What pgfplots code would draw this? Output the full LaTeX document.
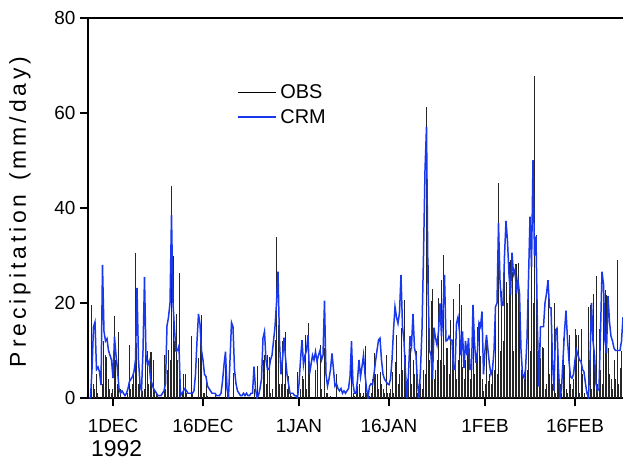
\documentclass[border=0pt]{standalone}
\usepackage{fontspec}
\setmainfont{Liberation Sans}
\usepackage{pgfplots}
\pgfplotsset{compat=1.18}
\usepackage{pgfplotstable}
\definecolor{crmblue}{RGB}{25,55,235}

% 6-hourly values, starting 27 Nov 1992 (day -4 relative to 1 Dec)
\pgfplotstableread[row sep=\\]{
obs crm\\
0 0\\ 0 0\\ 19.6 6\\ 3 15\\
2 16\\ 5 6\\ 1 6.5\\ 0 5.5\\
0 2.7\\ 3 28\\ 12 14\\ 9 12\\
8.7 12.5\\ 4 10\\ 2 9\\ 1 8\\
2 4.2\\ 17.3 12.9\\ 8 9\\ 3 6\\
14 2\\ 2 1\\ 0 1.5\\ 0 1\\
0 0.5\\ 0 1\\ 1 2\\ 11.2 3.5\\
2 4\\ 3 4.5\\ 5 5.6\\ 30.6 8\\
11.6 23.2\\ 3 8\\ 6 3\\ 2 1.5\\
1.5 10\\ 2 25.5\\ 14.3 9\\ 10 7\\
3 7.8\\ 9.7 4\\ 9.7 3\\ 7.9 2\\
2 1.5\\ 1 1\\ 0.5 0.5\\ 0 0.5\\
0 0.5\\ 0 1\\ 9 1.5\\ 2 3\\
6 15.2\\ 10.1 17\\ 8 20\\ 44.6 38.5\\
29.9 20\\ 12 14.4\\ 17.7 9.9\\ 8 10\\
26.4 11\\ 3 0.5\\ 1 1\\ 5 1.5\\
5 2\\ 1 1.5\\ 0 1\\ 0 1\\
13 1\\ 1 1\\ 0 1.5\\ 0 5\\
0 12\\ 8.4 17.7\\ 12.9 15.5\\ 17.5 10\\
1 8\\ 1 5\\ 4.6 4.5\\ 0.5 2.5\\
0 2\\ 0 1.5\\ 0 1\\ 0 1\\
1 1\\ 0 0.5\\ 0 0.5\\ 0 0.5\\
0 1\\ 0 3.5\\ 0 7\\ 7 9.75\\
2 2\\ 0 0\\ 0 8\\ 0 15.9\\
5.2 15\\ 0 6\\ 0 3\\ 0 1.5\\
0 1\\ 0 0.5\\ 0 0.5\\ 0 1\\
0 0.5\\ 0 1\\ 0 0.5\\ 0 0.5\\
0 1\\ 0 1\\ 2 6.6\\ 0 2\\
6.7 0\\ 0 0.5\\ 0 2\\ 0 4\\
8 12.6\\ 9 14\\ 3 8\\ 9 6\\
8.7 6\\ 1 8\\ 2 9\\ 0 12\\
12.2 15\\ 34 20\\ 15.4 26.6\\ 3 12\\
3 5\\ 12 8\\ 3 12.7\\ 14 8.5\\
2 5\\ 4.7 3\\ 1 1\\ 0.5 1\\
0 1\\ 0 0.5\\ 0 0.5\\ 5.5 0\\
0 3\\ 2 8\\ 4.7 12.2\\ 4 7\\
13.2 9\\ 2 10\\ 15.7 13.2\\ 6.8 5\\
0 7\\ 0 9\\ 0 8\\ 6 9.75\\
7.7 7.7\\ 0 9\\ 11.2 10\\ 2 8\\
0 9\\ 10.5 20.5\\ 1 5\\ 1 2.5\\
0 4\\ 0.5 6\\ 0 9.4\\ 0 6\\
0 2.5\\ 5 3\\ 0 2\\ 0 1.5\\
0 2\\ 0 1\\ 0 1.5\\ 0 1\\
0 1.5\\ 0 2\\ 0 4.5\\ 11.9 11.9\\
1 3\\ 0.5 1\\ 1 1\\ 2.5 3.8\\
3 8\\ 1 4.5\\ 0.5 6.6\\ 1 9\\
11 5\\ 1 2\\ 0 0\\ 0.5 2.5\\
1 3\\ 4 2.8\\ 9.4 5\\ 5 7.7\\
5 10\\ 2 12.2\\ 5.5 12.6\\ 3 8\\
2 5\\ 1 4\\ 9 3.5\\ 1 3\\
1 2.8\\ 2 4\\ 5.5 8\\ 1 14.3\\
7.5 19.2\\ 13.2 17\\ 3 15.7\\ 5 18\\
14.7 25.9\\ 6 15\\ 20.6 11.9\\ 9 5.3\\
4 0\\ 6 5\\ 10.5 13\\ 3 11\\
7.9 17.7\\ 5 10.5\\ 10 9\\ 1 3\\
1 0\\ 3 6\\ 2 14.4\\ 6 30\\
5 48\\ 61.3 57.1\\ 28 24\\ 8 10\\
20.4 9\\ 23 4\\ 4 14.8\\ 6 12.6\\
8 11.2\\ 21 14\\ 8 19.9\\ 24.9 13\\
30.1 18.5\\ 7 25.9\\ 10.5 12\\ 10.5 12.2\\
5 13\\ 16.4 12.2\\ 8 12.2\\ 20.8 6\\
6 6\\ 4 15.7\\ 8 17\\ 24 14\\
19.6 9\\ 6.5 14\\ 4 6.3\\ 8 12\\
10.5 9\\ 9.8 12.6\\ 4 6\\ 8 6\\
15 19.6\\ 5 11.6\\ 8 7.4\\ 15 10\\
16 15.8\\ 8.8 15\\ 4 18.2\\ 1.5 5\\
3 10\\ 13 13.3\\ 3.5 10\\ 5 7\\
3 5\\ 6 6\\ 6 10\\ 17.8 19.2\\
5 20\\ 45.2 36.8\\ 10 24.8\\ 22.5 19.5\\
12 19.5\\ 29 30\\ 24.5 37.3\\ 20 33\\
28.7 26\\ 29 21.7\\ 26.6 30.6\\ 10 26\\
28.3 27\\ 28.3 22\\ 28.4 24.8\\ 21.7 22\\
6 10.2\\ 5 5\\ 4 4.3\\ 5.5 6\\
6 12.4\\ 22.7 25\\ 10 38.2\\ 27.6 27.6\\
20 50.1\\ 67.7 30\\ 34.3 34\\ 10 14\\
11.5 2.4\\ 8.5 15\\ 10.7 15\\ 10.5 15\\
2 20\\ 3 22\\ 21.3 24.8\\ 5 19\\
15 19\\ 3 8\\ 20 1.5\\ 1 14.3\\
9.9 14.7\\ 8 6\\ 3 0\\ 1 2\\
12.6 8\\ 7 14\\ 2 18.4\\ 1 12.3\\
13.2 7.8\\ 3 4.5\\ 2 4.2\\ 4 5\\
14.5 8\\ 13.2 10.1\\ 13.2 9\\ 1 8\\
14.5 7.7\\ 5 6\\ 1 5.5\\ 0 3\\
0 1\\ 19.2 0\\ 19.6 8\\ 2 20\\
22 12\\ 10 9\\ 25.7 3\\ 3 1.5\\
14.5 2\\ 6 14\\ 3 26.6\\ 20 24\\
22.7 12\\ 21.7 9.5\\ 10.5 21.5\\ 5 16\\
4 13\\ 2 12\\ 8 10.5\\ 4 10\\
29 10\\ 3 10\\ 6.3 10\\ 10 12\\
6 17\\
}\prdata

\begin{document}
\begin{tikzpicture}
\begin{axis}[
  name=ax,
  at={(0,0)}, anchor=south west,
  scale only axis, width=535bp, height=380bp,
  xmin=-4.1667, xmax=85, ymin=0, ymax=80,
  axis lines=left,
  axis line style={-, line width=1.1pt},
  ytick={0,20,40,60,80},
  xtick={0,15,31,46,62,77},
  xticklabels={1DEC,16DEC,1JAN,16JAN,1FEB,16FEB},
  tick align=outside, major tick length=8bp,
  tick style={line width=1.1pt, black},
  /pgf/number format/assume math mode=true,
  ticklabel style={font=\fontsize{19}{22}\selectfont},
  xticklabel style={yshift=-10bp},
  yticklabel style={xshift=-1bp},
  ylabel={Precipitation\hspace{0.6em}(mm/day)},
  every axis y label/.style={at={(axis description cs:-0.127,0.49)}, rotate=90, anchor=center,
     font=\fontsize{23}{27}\selectfont\addfontfeature{LetterSpace=17}},
  legend style={draw=none, fill=none, at={(0.278,0.772)}, anchor=west,
     font=\fontsize{20}{23}\selectfont, row sep=5bp, inner sep=0pt,
     nodes={inner xsep=4bp}},
  legend cell align=left,
]
\addplot[ycomb, black!85, line width=1.0bp, mark=none,
  legend image code/.code={\draw[black,line width=1.4pt](0bp,0bp)--(38bp,0bp);}]
  table[x expr=\coordindex*0.25-4, y=obs]{\prdata};
\addplot[crmblue, line width=1.5pt, mark=none,
  legend image code/.code={\draw[crmblue,line width=1.5pt](0bp,0bp)--(38bp,0bp);}]
  table[x expr=\coordindex*0.25-4, y=crm]{\prdata};
\legend{OBS,CRM}
\end{axis}
\draw[line width=1.1pt] (ax.north west) -- ([xshift=2bp]ax.north east);
\node[anchor=north west, inner sep=0pt, font=\fontsize{23}{27}\selectfont]
  at ([xshift=3bp,yshift=-42bp]ax.south west) {1992};
\pgfresetboundingbox
\useasboundingbox ([xshift=-88bp,yshift=-63bp]ax.south west) rectangle ([yshift=18bp]ax.north east);
\end{tikzpicture}
\end{document}
